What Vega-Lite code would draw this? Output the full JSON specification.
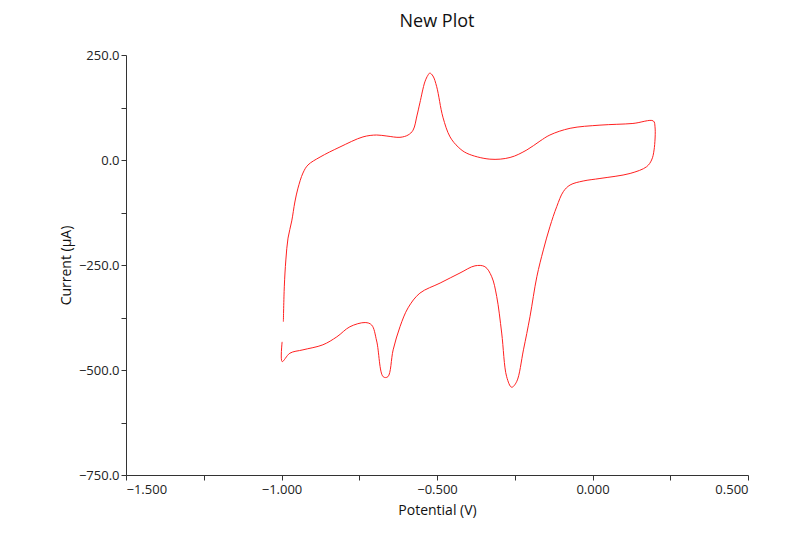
{
  "$schema": "https://vega.github.io/schema/vega-lite/v6.json",
  "width": 622,
  "height": 420,
  "autosize": {"type": "none"},
  "padding": {"left": 126, "top": 55, "right": 52, "bottom": 58},
  "background": "white",
  "title": {"text": "New Plot", "fontSize": 18, "font": "Open Sans", "fontWeight": "normal", "color": "#111", "offset": 18, "anchor": "middle"},
  "data": {"values": [
    {"i":1,"x":-0.994,"y":-385},{"i":2,"x":-0.991,"y":-302},{"i":3,"x":-0.986,"y":-238},{"i":4,"x":-0.979,"y":-186},
    {"i":5,"x":-0.967,"y":-145},{"i":6,"x":-0.957,"y":-100},{"i":7,"x":-0.947,"y":-67},{"i":8,"x":-0.931,"y":-31},
    {"i":9,"x":-0.915,"y":-12},{"i":10,"x":-0.876,"y":7},{"i":11,"x":-0.812,"y":31},{"i":12,"x":-0.738,"y":55},
    {"i":13,"x":-0.694,"y":59.5},{"i":14,"x":-0.661,"y":57},{"i":15,"x":-0.619,"y":54},{"i":16,"x":-0.593,"y":59.5},
    {"i":17,"x":-0.577,"y":71},{"i":18,"x":-0.564,"y":107},{"i":19,"x":-0.555,"y":136},{"i":20,"x":-0.539,"y":186},
    {"i":21,"x":-0.529,"y":202},{"i":22,"x":-0.523,"y":207},{"i":23,"x":-0.513,"y":200},{"i":24,"x":-0.501,"y":174.5},
    {"i":25,"x":-0.481,"y":102},{"i":26,"x":-0.458,"y":55},{"i":27,"x":-0.432,"y":31},{"i":28,"x":-0.404,"y":16},
    {"i":29,"x":-0.33,"y":2},{"i":30,"x":-0.265,"y":6},{"i":31,"x":-0.211,"y":24},{"i":32,"x":-0.169,"y":45},
    {"i":33,"x":-0.137,"y":59.5},{"i":34,"x":-0.072,"y":75.5},{"i":35,"x":0.024,"y":83},{"i":36,"x":0.13,"y":87},
    {"i":37,"x":0.1955,"y":93},{"i":38,"x":0.201,"y":79},{"i":39,"x":0.198,"y":24},{"i":40,"x":0.19,"y":0},
    {"i":41,"x":0.174,"y":-16},{"i":42,"x":0.121,"y":-32},{"i":43,"x":0.024,"y":-44},{"i":44,"x":-0.03,"y":-50},
    {"i":45,"x":-0.072,"y":-59.5},{"i":46,"x":-0.094,"y":-75.5},{"i":47,"x":-0.115,"y":-111},{"i":48,"x":-0.137,"y":-159},
    {"i":49,"x":-0.158,"y":-214},{"i":50,"x":-0.179,"y":-278},{"i":51,"x":-0.201,"y":-373},{"i":52,"x":-0.222,"y":-452},
    {"i":53,"x":-0.244,"y":-528},{"i":54,"x":-0.26,"y":-541},{"i":55,"x":-0.276,"y":-516},{"i":56,"x":-0.292,"y":-412},
    {"i":57,"x":-0.308,"y":-325},{"i":58,"x":-0.324,"y":-278},{"i":59,"x":-0.346,"y":-254},{"i":60,"x":-0.378,"y":-252},
    {"i":61,"x":-0.426,"y":-269},{"i":62,"x":-0.49,"y":-293},{"i":63,"x":-0.555,"y":-317},{"i":64,"x":-0.593,"y":-352},
    {"i":65,"x":-0.619,"y":-397},{"i":66,"x":-0.641,"y":-452},{"i":67,"x":-0.658,"y":-516},{"i":68,"x":-0.673,"y":-516},
    {"i":69,"x":-0.694,"y":-431},{"i":70,"x":-0.71,"y":-393},{"i":71,"x":-0.731,"y":-387},{"i":72,"x":-0.78,"y":-397},
    {"i":73,"x":-0.822,"y":-421},{"i":74,"x":-0.867,"y":-440},{"i":75,"x":-0.931,"y":-452},{"i":76,"x":-0.973,"y":-460},
    {"i":77,"x":-0.998,"y":-480},{"i":78,"x":-0.998,"y":-433}
  ]},
  "mark": {"type": "line", "color": "#ff2020", "strokeWidth": 1, "interpolate": "catmull-rom"},
  "encoding": {
    "order": {"field": "i", "type": "quantitative"},
    "x": {"field": "x", "type": "quantitative",
      "scale": {"domain": [-1.5, 0.5], "nice": false, "zero": false},
      "axis": {"title": "Potential (V)", "values": [-1.5,-1.25,-1.0,-0.75,-0.5,-0.25,0,0.25,0.5],
        "labelExpr": "abs(datum.value * 2 - round(datum.value * 2)) < 0.001 ? format(datum.value, '.3f') : ''",
        "grid": false, "tickSize": 5, "labelPadding": 3, "labelFont": "Open Sans", "labelFontSize": 13, "labelColor": "#222",
        "titleFont": "Open Sans", "titleFontSize": 14, "titleFontWeight": "normal", "titleColor": "#111", "titlePadding": 7,
        "domainColor": "#333", "tickColor": "#333"}},
    "y": {"field": "y", "type": "quantitative",
      "scale": {"domain": [-750, 250], "nice": false, "zero": false},
      "axis": {"title": "Current (µA)", "values": [-750,-625,-500,-375,-250,-125,0,125,250],
        "labelExpr": "abs(datum.value % 250) < 0.001 ? format(datum.value, '.1f') : ''",
        "grid": false, "tickSize": 5, "labelPadding": 2, "labelFont": "Open Sans", "labelFontSize": 13, "labelColor": "#222",
        "titleFont": "Open Sans", "titleFontSize": 14, "titleFontWeight": "normal", "titleColor": "#111", "titlePadding": 5,
        "domainColor": "#333", "tickColor": "#333"}}
  },
  "config": {"view": {"stroke": null}}
}
